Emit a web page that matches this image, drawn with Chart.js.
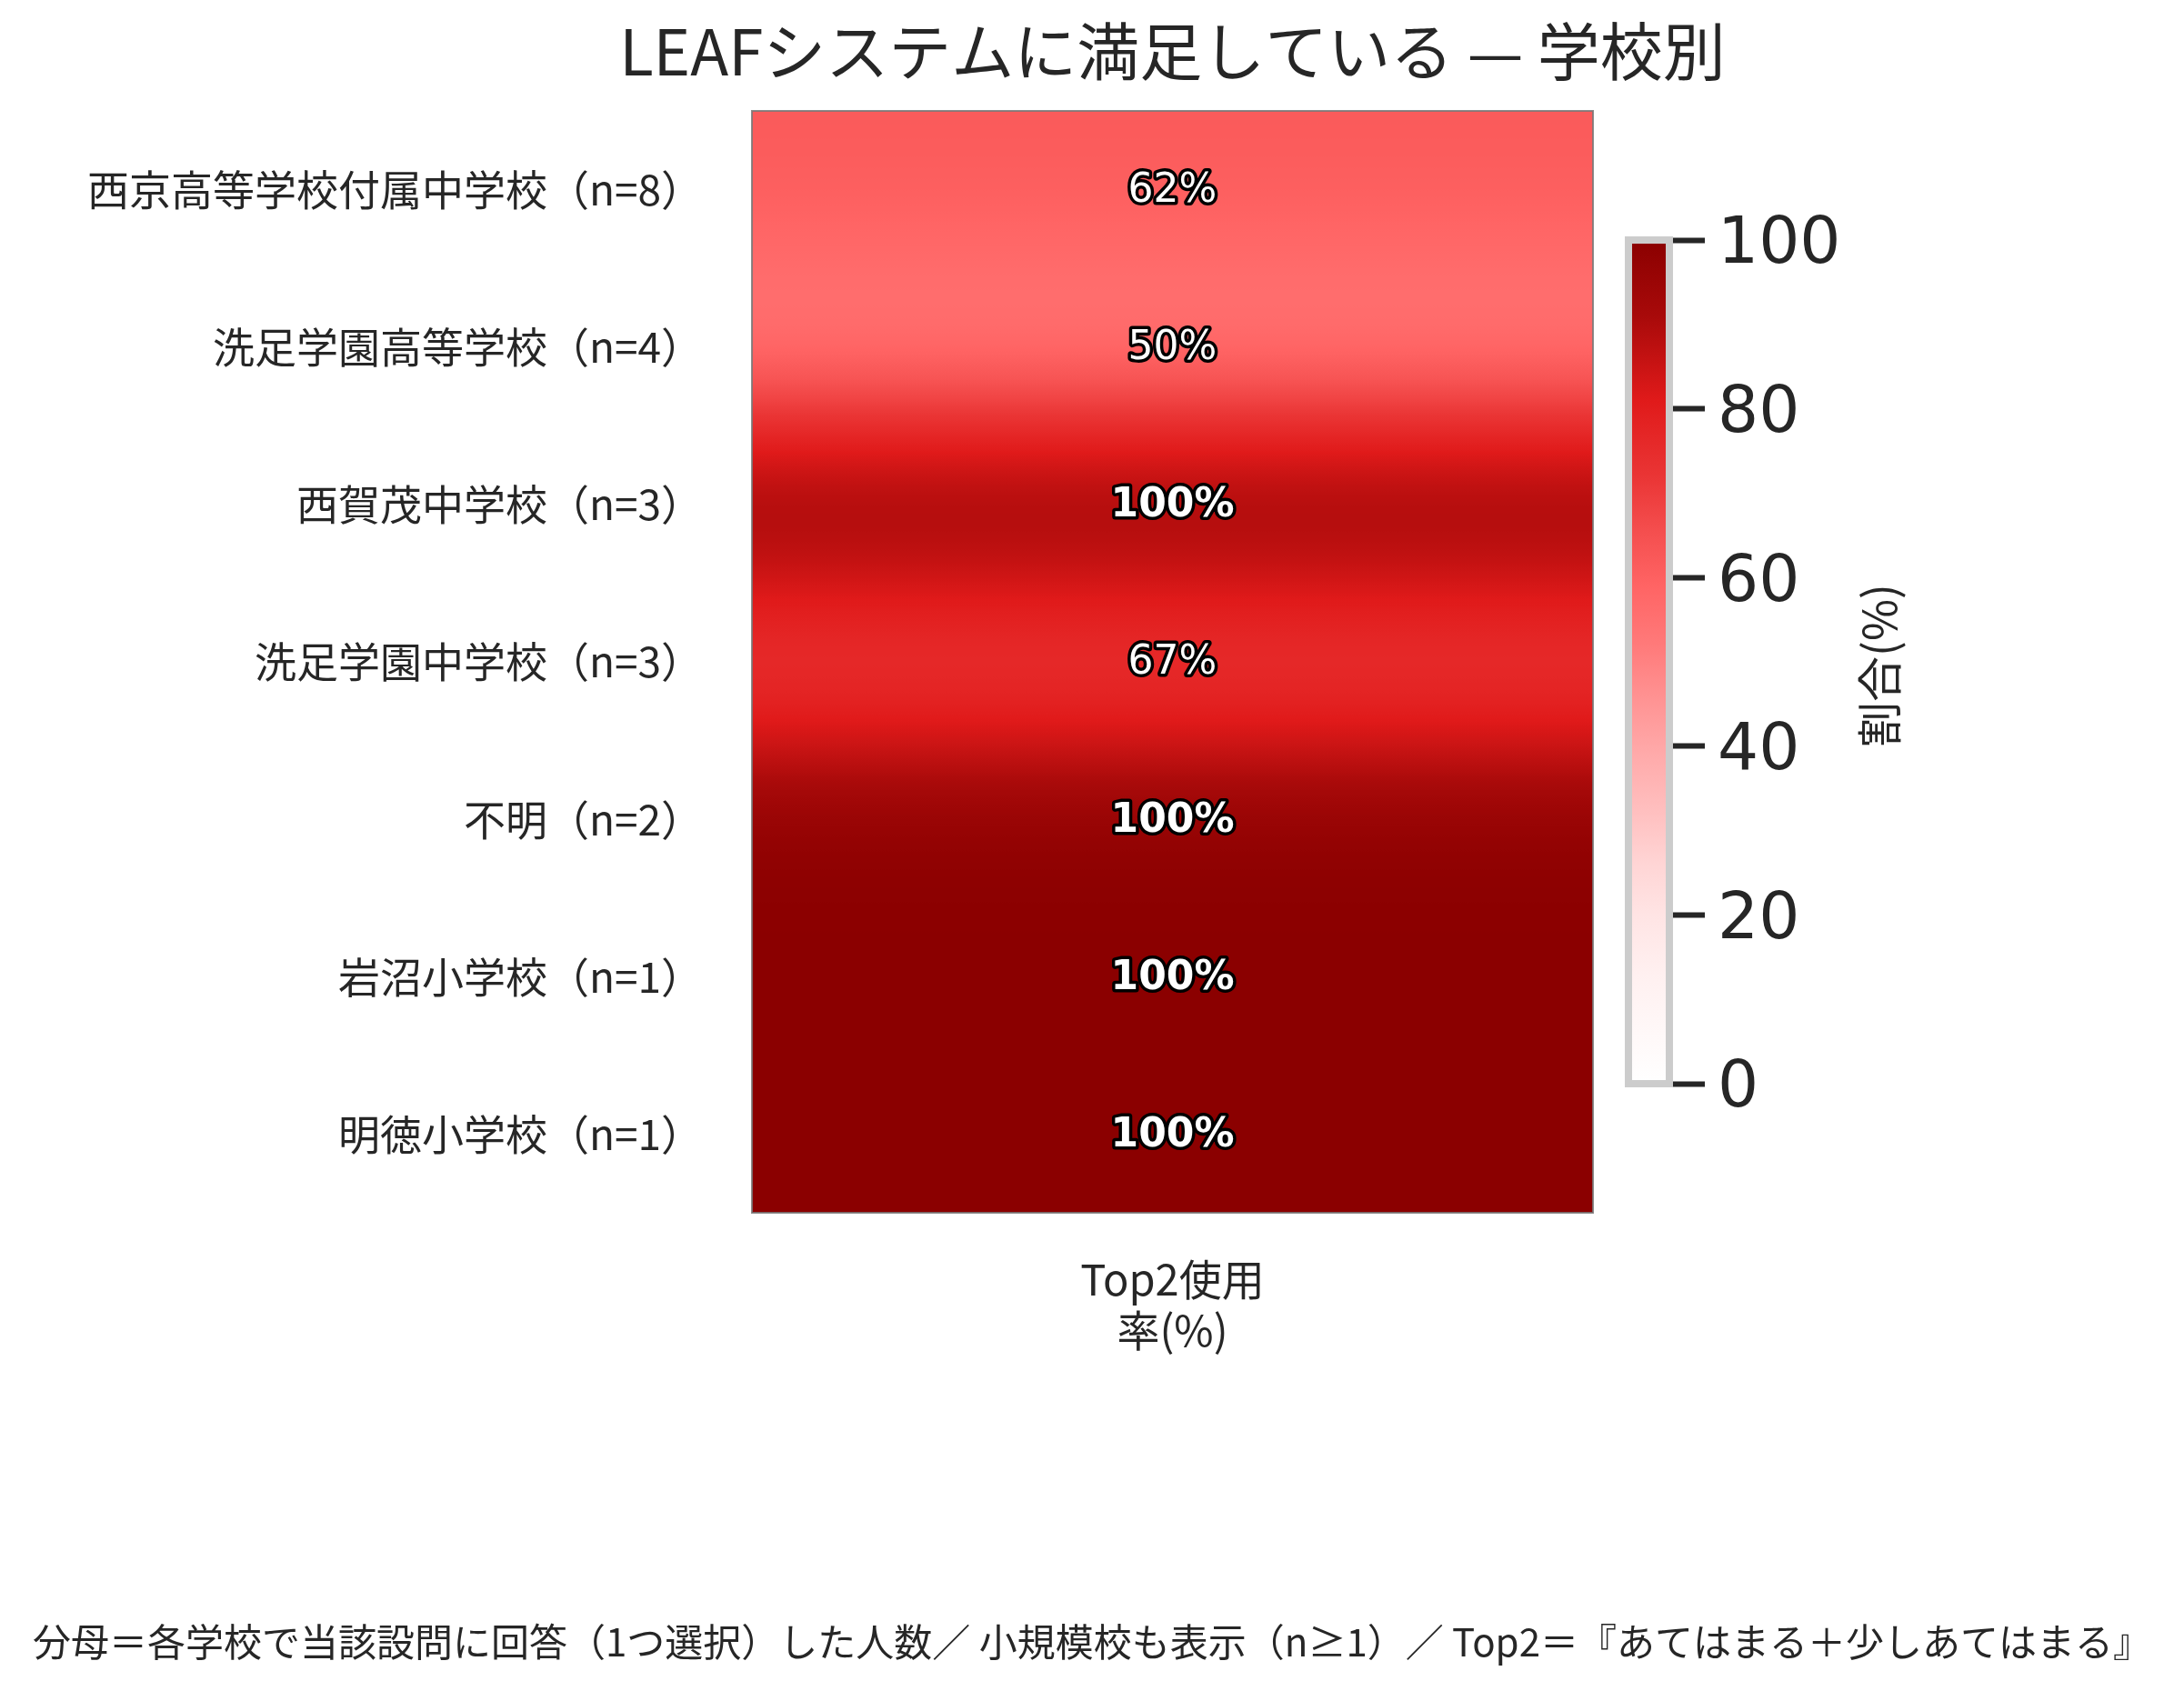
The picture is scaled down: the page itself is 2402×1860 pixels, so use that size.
<!DOCTYPE html>
<html><head><meta charset="utf-8">
<script src="https://cdn.jsdelivr.net/npm/chart.js@4.4.1/dist/chart.umd.min.js"></script>
<style>
html,body{margin:0;padding:0;background:#fff;}
#wrap{position:relative;width:2402px;height:1860px;overflow:hidden;}
#main{position:absolute;left:0;top:0;}
#cbar{position:absolute;left:1700px;top:0;}
</style></head><body>
<div id="wrap"><canvas id="main" width="2402" height="1860"></canvas><canvas id="cbar" width="702" height="1860"></canvas></div>
<script>
// ---- data ----
const schools = ['西京高等学校付属中学校','洗足学園高等学校','西賀茂中学校','洗足学園中学校','不明','岩沼小学校','明徳小学校'];
const nCounts = [8,4,3,3,2,1,1];
const values = [62,50,100,67,100,100,100];
const columnLabel = ['Top2使用','率(%)'];
const cbarMin = 0, cbarMax = 100;
const cbarTicks = [0,20,40,60,80,100];
const titleText = 'LEAFシステムに満足している — 学校別';
const cbarLabel = '割合(%)';
const footnote = '分母＝各学校で当該設問に回答（1つ選択）した人数／ 小規模校も表示（n≥1）／ Top2＝『あてはまる＋少しあてはまる』';

// ---- style ----
const FONT = '"Noto Sans CJK JP","Noto Sans",sans-serif';
const NUMFONT = '"DejaVu Sans","Noto Sans CJK JP",sans-serif';
const TEXT = '#262626';
const cmapStops = [
  [0,'#ffffff'],[13,'#fff0f0'],[20,'#ffe4e4'],[26,'#ffd5d5'],[32,'#ffc0c0'],[39,'#ffaaaa'],
  [45,'#ff9595'],[52,'#ff7a7a'],[59,'#ff6464'],[65,'#f55050'],[72,'#ea3535'],[81,'#e01a1a'],
  [91,'#a80a0a'],[100,'#8b0000']
];
const SIGMA = 0.47; // smoothing of the rendered image, in cell units

function hex2rgb(h){return [parseInt(h.slice(1,3),16),parseInt(h.slice(3,5),16),parseInt(h.slice(5,7),16)];}
const cmapRGB = cmapStops.map(s=>[s[0],hex2rgb(s[1])]);
function cmap(v){
  v = Math.max(cbarMin, Math.min(cbarMax, v));
  for(let i=1;i<cmapRGB.length;i++){
    const [v1,c1] = cmapRGB[i], [v0,c0] = cmapRGB[i-1];
    if(v<=v1){
      const t=(v-v0)/(v1-v0);
      const c=c0.map((a,k)=>Math.round(a+(c1[k]-a)*t));
      return `rgb(${c[0]},${c[1]},${c[2]})`;
    }
  }
  const c=cmapRGB[cmapRGB.length-1][1];return `rgb(${c[0]},${c[1]},${c[2]})`;
}
function erf(x){
  const s=x<0?-1:1; x=Math.abs(x);
  const t=1/(1+0.3275911*x);
  const y=1-(((((1.061405429*t-1.453152027)*t)+1.421413741)*t-0.284496736)*t+0.254829592)*t*Math.exp(-x*x);
  return s*y;
}
function Phi(z){return 0.5*(1+erf(z/Math.SQRT2));}
function smoothValue(r){
  const n=values.length;
  let s=values[0]*Phi((0-r)/SIGMA)+values[n-1]*(1-Phi((n-r)/SIGMA));
  for(let i=0;i<n;i++) s+=values[i]*(Phi((i+1-r)/SIGMA)-Phi((i-r)/SIGMA));
  return s;
}
function heatGradient(chart){
  const {ctx, chartArea, scales} = chart;
  if(!chartArea) return null;
  const y = scales.y;
  const c0 = y.getPixelForValue(0), c1 = y.getPixelForValue(1);
  const h = c1-c0, top0 = c0-h/2;
  const g = ctx.createLinearGradient(0,chartArea.top,0,chartArea.bottom);
  const N=300;
  for(let k=0;k<=N;k++){
    const p = chartArea.top+(chartArea.bottom-chartArea.top)*k/N;
    g.addColorStop(k/N, cmap(smoothValue((p-top0)/h)));
  }
  return g;
}

const labels = schools.map((s,i)=>`${s}（n=${nCounts[i]}）`);

const mainDeco = {
  id:'mainDeco',
  afterDatasetsDraw(chart){
    const {ctx, chartArea:ca} = chart;
    ctx.save();
    ctx.strokeStyle='rgba(120,120,120,0.85)';
    ctx.lineWidth=2;
    ctx.strokeRect(ca.left, ca.top, ca.right-ca.left, ca.bottom-ca.top);
    const meta = chart.getDatasetMeta(0);
    ctx.textAlign='center'; ctx.textBaseline='middle';
    ctx.lineJoin='round';
    meta.data.forEach((el,i)=>{
      const v = values[i];
      ctx.font = `${v>=80?'bold':'normal'} 44px ${NUMFONT}`;
      const x = (el.x+el.base)/2, y = el.y;
      const t = `${v}%`;
      ctx.lineWidth=7; ctx.strokeStyle='#000';
      ctx.strokeText(t,x,y+2);
      ctx.fillStyle='#fff';
      ctx.fillText(t,x,y+2);
    });
    ctx.restore();
  },
  afterDraw(chart){
    const {ctx, chartArea:ca} = chart;
    ctx.save();
    ctx.fillStyle=TEXT; ctx.textAlign='center'; ctx.textBaseline='middle';
    ctx.font=`normal 69px ${FONT}`;
    ctx.fillText(titleText,(ca.left+ca.right)/2,57);
    ctx.font=`42px ${FONT}`;
    ctx.fillText(footnote, chart.width/2, 1806);
    ctx.restore();
  }
};

new Chart(document.getElementById('main'),{
  type:'bar',
  data:{labels, datasets:[{
    data: values.map(()=>[-0.5,0.5]),
    backgroundColor: ctx=>heatGradient(ctx.chart),
    borderWidth:0, barPercentage:1, categoryPercentage:1, inflateAmount:1
  }]},
  options:{
    indexAxis:'y', responsive:false, animation:false, devicePixelRatio:1,
    layout:{padding:{top:122,right:650,bottom:368,left:0}},
    scales:{
      y:{type:'category', grid:{display:false,drawTicks:false}, border:{display:false},
         ticks:{font:{family:FONT,size:46}, color:TEXT, padding:54},
         afterFit:s=>{s.width=827;}},
      x:{type:'linear', min:-0.5, max:0.5, grid:{display:false,drawTicks:false}, border:{display:false},
         afterBuildTicks:s=>{s.ticks=[{value:0}];},
         ticks:{font:{family:FONT,size:47,lineHeight:1.2}, color:TEXT, padding:45, callback:()=>columnLabel, maxRotation:0},
         afterFit:s=>{s.height=158;}}
    },
    plugins:{legend:{display:false}, tooltip:{enabled:false}}
  },
  plugins:[mainDeco]
});

function cbarGradient(chart){
  const {ctx, chartArea, scales} = chart;
  if(!chartArea) return null;
  const y = scales.y;
  const p0 = y.getPixelForValue(cbarMin), p1 = y.getPixelForValue(cbarMax);
  const g = ctx.createLinearGradient(0,p0,0,p1);
  cmapStops.forEach(([v,c])=>g.addColorStop((v-cbarMin)/(cbarMax-cbarMin), c));
  return g;
}
const cbarDeco = {
  id:'cbarDeco',
  afterDatasetsDraw(chart){
    const {ctx, chartArea:ca} = chart;
    ctx.save();
    ctx.strokeStyle='#cccccc'; ctx.lineWidth=8;
    ctx.strokeRect(ca.left, ca.top, ca.right-ca.left, ca.bottom-ca.top);
    ctx.restore();
  },
  afterDraw(chart){
    const {ctx, chartArea:ca} = chart;
    ctx.save();
    ctx.translate(ca.right+231,(ca.top+ca.bottom)/2+4);
    ctx.rotate(-Math.PI/2);
    ctx.fillStyle=TEXT; ctx.textAlign='center'; ctx.textBaseline='middle';
    ctx.font=`50px ${FONT}`;
    ctx.fillText(cbarLabel,0,0);
    ctx.restore();
  }
};
new Chart(document.getElementById('cbar'),{
  type:'bar',
  data:{labels:[''], datasets:[{data:[[cbarMin,cbarMax]], backgroundColor:ctx=>cbarGradient(ctx.chart), borderWidth:0, barPercentage:1, categoryPercentage:1}]},
  options:{
    responsive:false, animation:false, devicePixelRatio:1,
    layout:{padding:{left:91,top:264,bottom:668,right:0}},
    scales:{
      x:{display:false},
      y:{position:'right', min:cbarMin, max:cbarMax,
         afterBuildTicks:s=>{s.ticks=cbarTicks.map(v=>({value:v}));},
         grid:{drawOnChartArea:false, drawTicks:true, tickLength:39, tickWidth:6, tickColor:TEXT},
         border:{display:false},
         ticks:{font:{family:NUMFONT,size:71}, color:TEXT, padding:14, labelOffset:7},
         afterFit:s=>{s.width=566;}}
    },
    plugins:{legend:{display:false}, tooltip:{enabled:false}}
  },
  plugins:[cbarDeco]
});
</script></body></html>
